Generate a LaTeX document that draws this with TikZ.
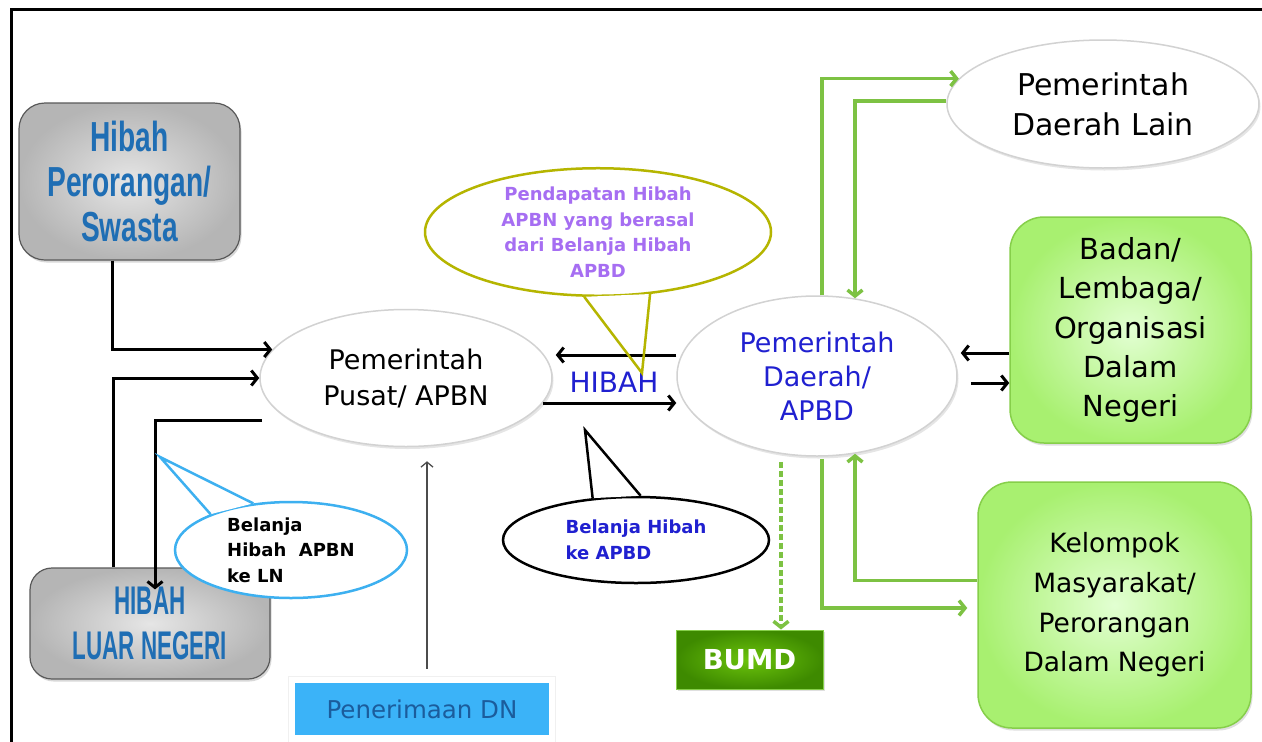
\documentclass[tikz,border=0pt]{standalone}
\usepackage{fontspec}
\setmainfont{DejaVu Sans}
\newfontfamily\condA[FakeStretch=0.67]{Liberation Sans}
\newfontfamily\condB[FakeStretch=0.56]{Liberation Sans}
\usetikzlibrary{shapes.geometric,arrows.meta,shadows}
\definecolor{hibblue}{HTML}{1F6EB4}
\definecolor{dblue}{HTML}{2020D0}
\definecolor{purp}{HTML}{A66EF2}
\definecolor{olivec}{HTML}{B5B500}
\definecolor{skyb}{HTML}{3DB0F0}
\definecolor{lgreen}{HTML}{7DC243}
\definecolor{gin}{HTML}{E2FFD2}
\definecolor{gout}{HTML}{A8F070}
\definecolor{gborder}{HTML}{86CF4A}
\definecolor{bumdin}{HTML}{6CC40C}
\definecolor{bumdout}{HTML}{3E8A00}
\definecolor{pdnfill}{HTML}{3BB3F8}
\definecolor{pdntext}{HTML}{1B5C9C}
\begin{document}
\begin{tikzpicture}[x=1pt,y=-1pt,
  gbox/.style={rounded corners=26pt, draw=gray!70!black, line width=1.2pt,
    inner color=gray!20, outer color=gray!58, text=hibblue, align=center, inner sep=0pt,
    drop shadow={opacity=0.3, shadow xshift=1.5pt, shadow yshift=-2.5pt}},
  ell/.style={ellipse, draw=gray!35, line width=1.5pt, fill=white, inner sep=0pt, align=center,
    drop shadow={opacity=0.2, shadow xshift=1.5pt, shadow yshift=-2.5pt}},
  gnbox/.style={rounded corners=34pt, draw=gborder, line width=1.5pt,
    inner color=gin, outer color=gout, align=center, inner sep=0pt,
    drop shadow={opacity=0.25, shadow xshift=1.5pt, shadow yshift=-2.5pt}},
  callout/.style={ellipse, fill=white, inner sep=0pt, align=left, font=\bfseries\fontsize{18}{25.5}\selectfont},
  blk/.style={line width=3pt, -{Straight Barb[length=6pt,width=15pt]}},
  grn/.style={draw=lgreen, line width=3.5pt, -{Straight Barb[length=6pt,width=15pt]}}
]
\useasboundingbox (0,0) rectangle (1262,742);
\fill[white] (0,0) rectangle (1262,742);
% frame
\draw[line width=3pt] (11,742) -- (11,9) -- (1262,9);

% gray boxes
\node[gbox, minimum width=221pt, minimum height=157pt,
  font=\condA\bfseries\fontsize{42}{45}\selectfont] (hp) at (129.5,181.5) {Hibah\\Perorangan/\\Swasta};
\node[gbox, rounded corners=22pt, minimum width=240pt, minimum height=111pt,
  font=\condB\bfseries\fontsize{40}{45}\selectfont] (ln) at (150,623.5) {HIBAH\\LUAR NEGERI};

% ellipses
\node[ell, minimum width=292pt, minimum height=137pt, font=\fontsize{27}{36}\selectfont] (pusat) at (406,378) {Pemerintah\\Pusat/ APBN};
\node[ell, minimum width=280pt, minimum height=160pt, text=dblue, font=\fontsize{27}{34}\selectfont] (daerah) at (817,376) {Pemerintah\\Daerah/\\APBD};
\node[ell, minimum width=312pt, minimum height=128pt, font=\fontsize{30}{40}\selectfont] (lain) at (1103,104) {Pemerintah\\Daerah Lain};

% green boxes
\node[gnbox, minimum width=241pt, minimum height=226pt, font=\fontsize{29}{39.3}\selectfont] (badan) at (1130.5,330) {Badan/\\Lembaga/\\Organisasi\\Dalam\\Negeri};
\node[gnbox, minimum width=273pt, minimum height=246pt, font=\fontsize{26.5}{39.7}\selectfont] (kel) at (1114.5,605) {Kelompok\\Masyarakat/\\Perorangan\\Dalam Negeri};

% BUMD
\node[rectangle, draw=gborder, line width=1pt, inner color=bumdin, outer color=bumdout,
  minimum width=147pt, minimum height=59pt, inner sep=0pt, text=white,
  font=\bfseries\fontsize{27.5}{30}\selectfont,
  drop shadow={opacity=0.25, shadow xshift=1.5pt, shadow yshift=-2pt}] (bumd) at (749.5,659.5) {BUMD};

% Penerimaan DN
\node[rectangle, fill=white, draw=gray!12, line width=1pt, minimum width=267pt, minimum height=72pt,
  drop shadow={opacity=0.15, shadow xshift=1pt, shadow yshift=-1.5pt}] (pdnbg) at (421.5,712) {};
\node[rectangle, fill=pdnfill, minimum width=254pt, minimum height=52pt, inner sep=0pt,
  text=pdntext, font=\fontsize{24.5}{30}\selectfont] (pdn) at (422,709) {Penerimaan DN};

% HIBAH label
\node[text=dblue, font=\fontsize{28}{30}\selectfont, inner sep=0pt] (hibah) at (614,382) {HIBAH};

% callouts: bodies
\node[callout, draw=olivec, line width=2.5pt, minimum width=346pt, minimum height=124pt,
  text=purp, align=center] (cpend) at (598,232) {Pendapatan Hibah\\APBN yang berasal\\dari Belanja Hibah\\APBD};
\coordinate (ptip) at (642,373);
\fill[white] (cpend.258) -- (ptip) -- (cpend.310) -- cycle;

\node[callout, draw=black, line width=2.5pt, minimum width=266pt, minimum height=86pt,
  text=dblue] (cbel) at (636,540) {Belanja Hibah\\ke APBD};
\coordinate (btip) at (585,430);
\fill[white] (cbel.136) -- (btip) -- (cbel.84) -- cycle;

\node[callout, draw=skyb, line width=2.5pt, minimum width=232pt, minimum height=96pt,
  text=black] (cln) at (291,550) {Belanja\\Hibah\ \ APBN\\ke LN};
\coordinate (ltip) at (160,457);
\fill[white] (cln.156) -- (ltip) -- (cln.129) -- cycle;

% black connectors
\draw[blk] ([xshift=-17pt]hp.south) |- (pusat.168);
\draw[blk] ([xshift=-37pt]ln.north) |- (pusat.west);
\coordinate (pl) at (262,420);
\draw[blk] (pl) -| ([xshift=5pt,yshift=-22pt]ln.north);
\draw[blk] (daerah.west |- 0,355) -- ([xshift=3pt]pusat.east |- 0,355);
\draw[blk] ([xshift=-10pt]pusat.east |- 0,403) -- (daerah.west |- 0,403);
\draw[blk] (badan.west |- 0,353) -- ([xshift=3pt]daerah.east |- 0,353);
\draw[blk] ([xshift=13pt]daerah.east |- 0,383) -- (badan.west |- 0,383);
\draw[line width=1.3pt, draw=gray!60!black, -{Straight Barb[length=5pt,width=12pt]}]
  ([xshift=5pt,yshift=14pt]pdn.north) -- ([xshift=21pt,yshift=-14pt]pusat.south);

% green connectors
\draw[grn] ([xshift=5pt]daerah.north) |- (lain.170);
\draw[grn] ([yshift=3pt]lain.west) -| ([xshift=38pt,yshift=-3pt]daerah.north);
\draw[grn] ([xshift=5pt,yshift=-2pt]daerah.south) |- ([xshift=-10pt,yshift=-3pt]kel.west);
\draw[grn] ([yshift=24.5pt]kel.west) -| ([xshift=38pt,yshift=3pt]daerah.south);
\draw[grn, dash pattern=on 6pt off 3pt] ([xshift=-36pt,yshift=-5pt]daerah.south) -- ([xshift=31.5pt]bumd.north);

% callout tails
\draw[olivec, line width=2.5pt, line join=miter] (cpend.258) -- (ptip) -- (cpend.310);
\draw[black, line width=2.5pt, line join=miter] (cbel.136) -- (btip) -- (cbel.84);
\draw[skyb, line width=2.5pt, line join=miter] (cln.156) -- (ltip) -- (cln.129);
\end{tikzpicture}
\end{document}
